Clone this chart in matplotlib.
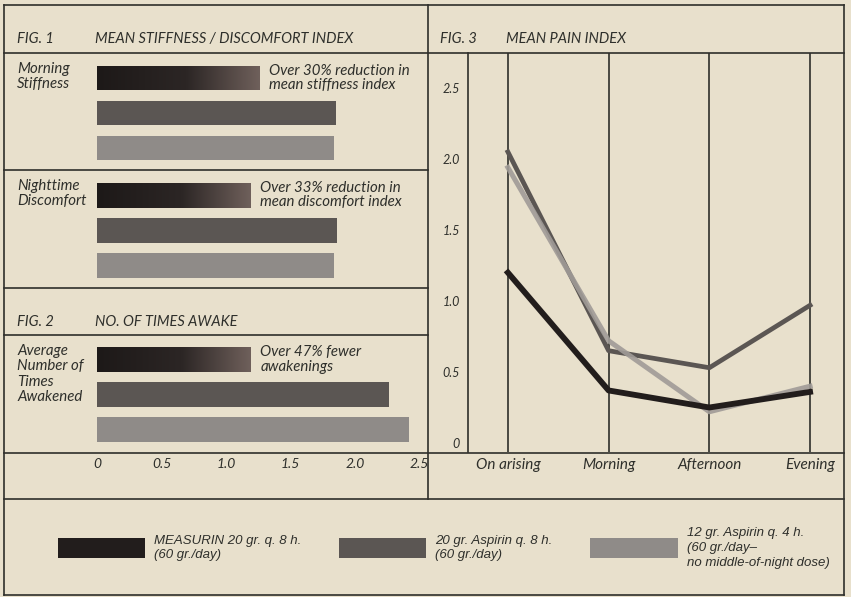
import matplotlib.pyplot as plt
from matplotlib.colors import LinearSegmentedColormap
from matplotlib.patches import Patch
import numpy as np

# --- data ---
bar_groups = ['Morning\nStiffness', 'Nighttime\nDiscomfort']
morning_stiffness = [1.26, 1.85, 1.84]
nighttime_discomfort = [1.19, 1.86, 1.84]
times_awake = [1.19, 2.26, 2.42]
bar_ticks = [0, 0.5, 1.0, 1.5, 2.0, 2.5]
bar_ticklabels = ['0', '0.5', '1.0', '1.5', '2.0', '2.5']

notes = ['Over 30% reduction in\nmean stiffness index',
         'Over 33% reduction in\nmean discomfort index',
         'Over 47% fewer\nawakenings']

times = ['On arising', 'Morning', 'Afternoon', 'Evening']
pain_measurin = [1.20, 0.37, 0.25, 0.36]
pain_aspirin_q8 = [2.05, 0.65, 0.53, 0.97]
pain_aspirin_q4 = [1.94, 0.72, 0.22, 0.40]
pain_ticks = [0, 0.5, 1.0, 1.5, 2.0, 2.5]
pain_ticklabels = ['0', '0.5', '1.0', '1.5', '2.0', '2.5']

series_labels = ['MEASURIN 20 gr. q. 8 h.\n(60 gr./day)',
                 '20 gr. Aspirin q. 8 h.\n(60 gr./day)',
                 '12 gr. Aspirin q. 4 h.\n(60 gr./day\u2013\nno middle-of-night dose)']

# --- style ---
BG = '#e8e0cc'
INK = '#2e2f2b'
C_BLACK = '#221d1c'
C_DARK = '#5b5653'
C_LIGHT = '#8f8b88'
bar_colors = [C_BLACK, C_DARK, C_LIGHT]
FONT = ['Lato', 'DejaVu Sans']
NARROW = ['Liberation Sans Narrow', 'Liberation Sans', 'DejaVu Sans']

W, H = 851, 597
fig = plt.figure(figsize=(W / 100, H / 100), dpi=100, facecolor=BG)


def px_axes(x0, y0, x1, y1):
    ax = fig.add_axes([x0 / W, 1 - y1 / H, (x1 - x0) / W, (y1 - y0) / H])
    ax.patch.set_alpha(0)
    return ax


# frame drawn in pixel space
frame = fig.add_axes([0, 0, 1, 1], zorder=0)
frame.set_xlim(0, W)
frame.set_ylim(H, 0)
frame.axis('off')
L, R, T, B = 4, 844, 5, 595
rules = [(T, L, R), (53, L, R), (170, L, 428), (288, L, 428), (335, L, 428),
         (453, L, R), (499, L, R), (B, L, R)]
for y, xa, xb in rules:
    frame.plot([xa, xb], [y, y], color=INK, lw=1.2)
for x, ya, yb in [(L, T, B), (R, T, B), (428, T, 499)]:
    frame.plot([x, x], [ya, yb], color=INK, lw=1.2)

title_kw = dict(fontsize=10.5, style='italic', color=INK, family=FONT, va='center')
frame.text(17, 39, 'FIG. 1', **title_kw)
frame.text(95, 39, 'MEAN STIFFNESS / DISCOMFORT INDEX', **title_kw)
frame.text(17, 322, 'FIG. 2', **title_kw)
frame.text(95, 322, 'NO. OF TIMES AWAKE', **title_kw)
frame.text(440, 39, 'FIG. 3', **title_kw)
frame.text(506, 39, 'MEAN PAIN INDEX', **title_kw)

lab_kw = dict(fontsize=10.8, style='italic', color=INK, family=FONT, va='top',
              linespacing=1.12)
frame.text(17, 62, bar_groups[0], **lab_kw)
frame.text(17, 179, bar_groups[1], **lab_kw)
frame.text(17, 344, 'Average\nNumber of\nTimes\nAwakened', **lab_kw)

grad_cmap = LinearSegmentedColormap.from_list(
    'g', [(0, '#1d1918'), (0.55, '#2c2625'), (1, '#6f605b')])
gradient = np.linspace(0, 1, 256).reshape(1, -1)


def bar_panel(top, values, note, show_ticks=False):
    ax = px_axes(97, top, 419.5, top + 105)
    bars = ax.barh(range(3), values, height=0.71, color=bar_colors)
    b = bars[0]
    im = ax.imshow(gradient, cmap=grad_cmap, aspect='auto', zorder=2,
                   extent=[0, values[0], b.get_y() + b.get_height(), b.get_y()])
    im.set_clip_path(b)
    ax.set_xlim(0, 2.5)
    ax.set_ylim(2.5, -0.5)
    ax.annotate(note, xy=(values[0], 0), xytext=(7, 0), textcoords='offset points',
                va='center', ha='left', fontsize=10.8, style='italic', color=INK,
                family=FONT, linespacing=1.0)
    for s in ax.spines.values():
        s.set_visible(False)
    ax.set_yticks([])
    if show_ticks:
        ax.set_xticks(bar_ticks, bar_ticklabels, fontsize=10, style='italic',
                      color=INK, family=FONT)
        ax.tick_params(axis='x', length=0, pad=8)
    else:
        ax.set_xticks([])
    return ax


bar_panel(60.5, morning_stiffness, notes[0])
bar_panel(178, nighttime_discomfort, notes[1])
bar_panel(342, times_awake, notes[2], show_ticks=True)

# --- Fig. 3 line chart ---
ax3 = px_axes(468, 53, 843, 452)
x = np.arange(len(times))
ax3.set_xlim(-40 / 101, 3 + 33 / 101)
ax3.set_ylim(-9 / 142, 390 / 142)
for xi in x:
    ax3.axvline(xi, color=INK, lw=1.2, zorder=1)
ax3.plot(x, pain_aspirin_q8, color=C_DARK, lw=3.4, solid_joinstyle='round', zorder=3)
ax3.plot(x, pain_aspirin_q4, color='#a09b97', lw=3.6, alpha=0.9,
         solid_joinstyle='round', zorder=4)
ax3.plot(x, pain_measurin, color=C_BLACK, lw=4.2, solid_joinstyle='round', zorder=5)
for k, s in ax3.spines.items():
    s.set_visible(k == 'left')
ax3.spines['left'].set_color(INK)
ax3.spines['left'].set_linewidth(1.2)
ax3.set_yticks(pain_ticks, pain_ticklabels, fontsize=9, style='italic',
               color=INK, family=FONT)
ax3.set_xticks(x, times, fontsize=11, style='italic', color=INK, family=FONT)
ax3.tick_params(axis='y', length=0, pad=6)
ax3.tick_params(axis='x', length=0, pad=4)

# --- legend ---
handles = [Patch(facecolor=c, edgecolor='none') for c in bar_colors]
leg = fig.legend(handles, series_labels, loc='center left',
                 bbox_to_anchor=(46 / W, 1 - 548 / H), ncol=3, frameon=False,
                 handlelength=6.6, handleheight=1.97, handletextpad=0.68,
                 columnspacing=2.88,
                 prop=dict(family=NARROW, size=9.5, style='italic'))
for t in leg.get_texts():
    t.set_color(INK)
    t.set_linespacing(1.3)

fig.savefig('out.png', dpi=100, facecolor=BG)
